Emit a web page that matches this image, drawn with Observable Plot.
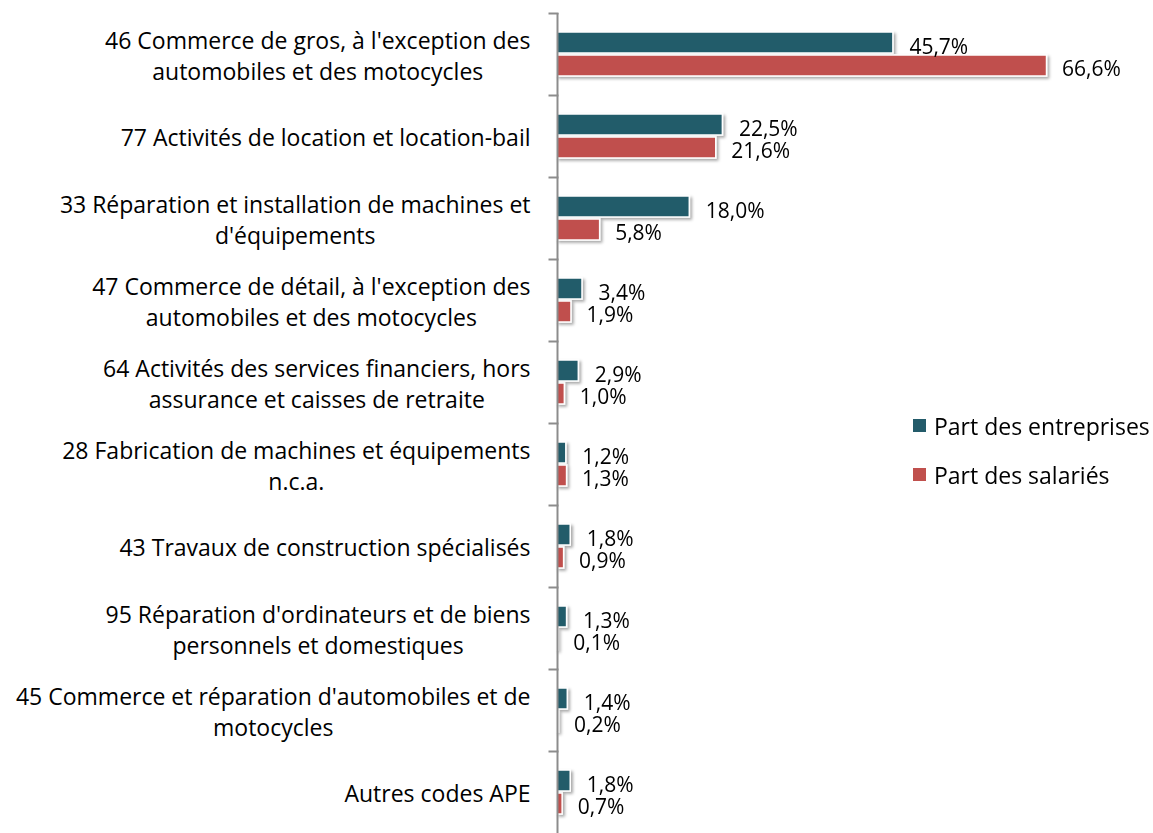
<!DOCTYPE html>
<html><head><meta charset="utf-8">
<script src="https://cdn.jsdelivr.net/npm/d3@7"></script>
<script src="https://cdn.jsdelivr.net/npm/@observablehq/plot@0.6"></script>
<style>
body{margin:0;background:#fff;}
#wrap{position:relative;width:1153px;height:833px;}
#legend{position:absolute;left:913px;top:401px;}
#legend [class$="-swatch"]{height:49px;margin:0 !important;padding:0 !important;display:flex;align-items:center;}
#legend [class$="-swatch"] svg{margin-right:8px !important;}
</style>
</head><body><div id="wrap"><div id="legend"></div></div>
<script>
const categories = [
  "46 Commerce de gros, à l'exception des\nautomobiles et des motocycles",
  "77 Activités de location et location-bail",
  "33 Réparation et installation de machines et\nd'équipements",
  "47 Commerce de détail, à l'exception des\nautomobiles et des motocycles",
  "64 Activités des services financiers, hors\nassurance et caisses de retraite",
  "28 Fabrication de machines et équipements\nn.c.a.",
  "43 Travaux de construction spécialisés",
  "95 Réparation d'ordinateurs et de biens\npersonnels et domestiques",
  "45 Commerce et réparation d'automobiles et de\nmotocycles",
  "Autres codes APE"
];
const series = ["Part des entreprises", "Part des salariés"];
const entreprises = [45.7, 22.5, 18.0, 3.4, 2.9, 1.2, 1.8, 1.3, 1.4, 1.8];
const salaries = [66.6, 21.6, 5.8, 1.9, 1.0, 1.3, 0.9, 0.1, 0.2, 0.7];
const colors = ["#235B6A", "#C0504D"];

const data = categories.flatMap((c, i) => [
  {category: c, series: series[0], value: entreprises[i]},
  {category: c, series: series[1], value: salaries[i]}
]);
const fmt = v => v.toFixed(1).replace(".", ",") + "%";
const labelFont = "Open Sans";
const valueFont = "Open Sans";

const chart = Plot.plot({
  width: 1153, height: 833,
  marginLeft: 557, marginRight: 8, marginTop: 13, marginBottom: 0,
  style: {fontFamily: labelFont, fontSize: "23px", color: "#000", background: "#fff", overflow: "visible"},
  x: {domain: [0, 80], axis: null},
  y: {domain: series, axis: null, paddingInner: 0.083, paddingOuter: 0.75},
  fy: {domain: categories, padding: 0, axis: null},
  color: {domain: series, range: colors},
  marks: [
    Plot.frame({anchor: "top", stroke: "#8c8c8c", strokeWidth: 2, insetLeft: -8, insetRight: 588}),
    Plot.barX(data, {fy: "category", y: "series", x: "value", fill: "series", stroke: "#fff", strokeWidth: 1.5}),
    Plot.ruleX([0], {stroke: "#8c8c8c", strokeWidth: 2}),
    Plot.text(data.filter(d => d.series === series[0]), {fy: "category", y: "series", x: "value", text: d => fmt(d.value), textAnchor: "start", dx: 16, dy: 4, fontFamily: valueFont, fontSize: 21, fill: "#000"}),
    Plot.text(data.filter(d => d.series === series[1]), {fy: "category", y: "series", x: "value", text: d => fmt(d.value), textAnchor: "start", dx: 15, dy: 3, fontFamily: valueFont, fontSize: 21, fill: "#000"}),
    Plot.axisFy({anchor: "left", tickSize: 0, tickPadding: 27, label: null, lineHeight: 1.35, fontSize: 23, fill: "#000"})
  ]
});
document.getElementById("wrap").prepend(chart);

// drop shadow on bars
const svg = d3.select(chart);
const defs = svg.insert("defs", ":first-child");
const f = defs.append("filter").attr("id", "shadow").attr("x", "-5%").attr("y", "-20%").attr("width", "120%").attr("height", "160%");
f.append("feDropShadow").attr("dx", 2).attr("dy", 2).attr("stdDeviation", 1.5).attr("flood-color", "#000").attr("flood-opacity", 0.35);
svg.selectAll('g[aria-label="bar"]').attr("filter", "url(#shadow)");

// center the lines of each category label within its block
svg.selectAll('g[aria-label="fy-axis tick label"] text').each(function() {
  const w = this.getBBox().width;
  const t = this.getAttribute("transform") || "";
  this.setAttribute("text-anchor", "middle");
  this.setAttribute("transform", t + ` translate(${-w / 2},0)`);
});

const legend = Plot.legend({
  color: {domain: series, range: colors},
  legend: "swatches", columns: 1, swatchSize: 13,
  style: {fontFamily: labelFont, fontSize: "23px", color: "#000"}
});
document.getElementById("legend").append(legend);
</script>
</body></html>
